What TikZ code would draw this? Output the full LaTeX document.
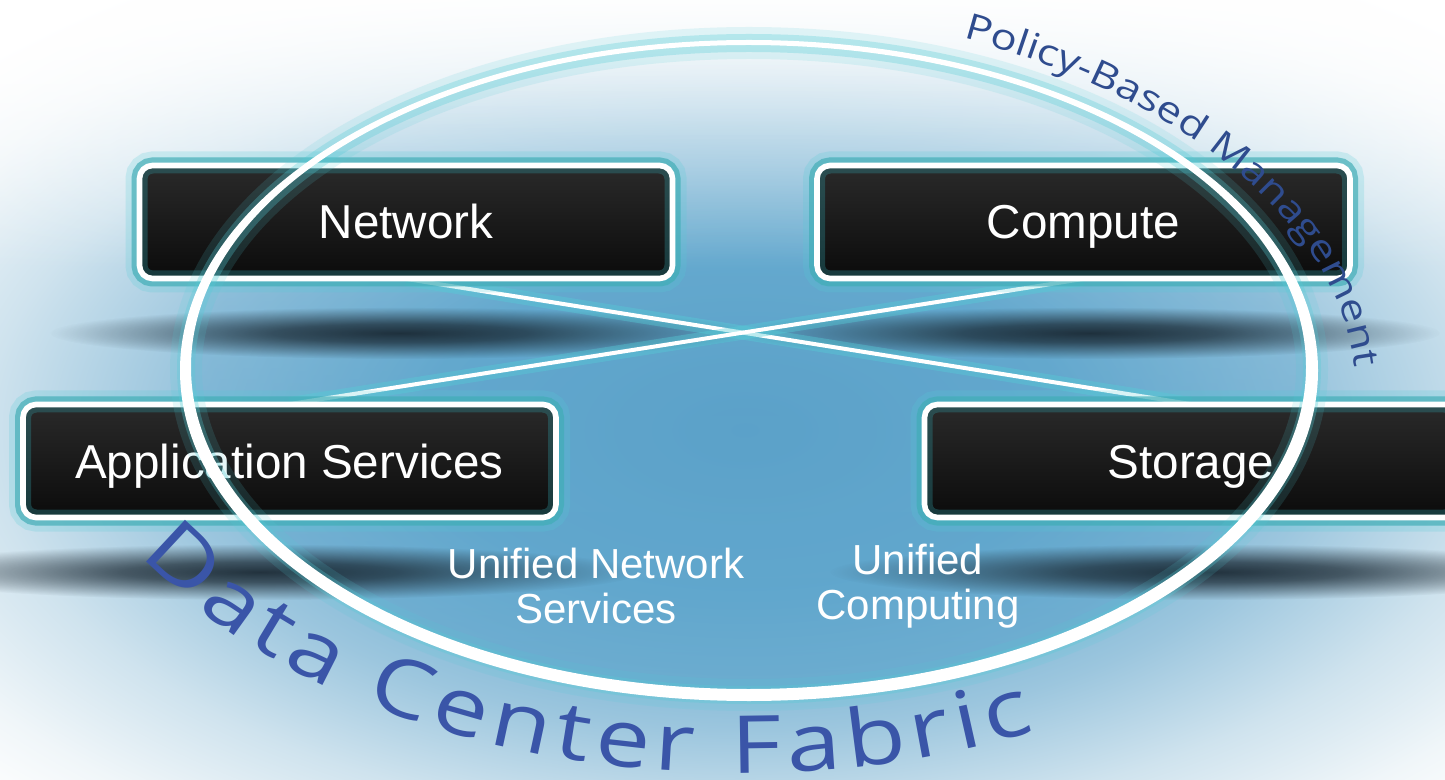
\documentclass[tikz,border=0pt]{standalone}
\usepackage{fontspec}
\setmainfont{Liberation Sans}
\newfontfamily\osans[FakeStretch=1.22]{Open Sans}
\newfontfamily\osansb[FakeStretch=1.22]{Open Sans}
\usetikzlibrary{fadings,decorations.text}

\definecolor{bgA}{HTML}{5A9FC7}
\definecolor{bgB}{HTML}{66AACF}
\definecolor{bgC}{HTML}{9CC6DE}
\definecolor{bgD}{HTML}{CFE3EE}
\definecolor{bgE}{HTML}{F0F6F9}
\definecolor{innerblue}{HTML}{5EA5CC}
\definecolor{bandc}{HTML}{16232D}
\definecolor{glowc}{HTML}{55CCD6}
\definecolor{innerteal}{HTML}{2E9098}
\definecolor{boxtop}{HTML}{2A2A2A}
\definecolor{boxbot}{HTML}{0B0B0B}
\definecolor{pbm}{HTML}{2F4C8E}
\definecolor{dcf}{HTML}{3A55A8}

\pgfdeclareradialshading{bgglow}{\pgfpointorigin}{color(0bp)=(bgA); color(7bp)=(bgB); color(12.5bp)=(bgC); color(16.5bp)=(bgD); color(20bp)=(bgE); color(22.5bp)=(white); color(50bp)=(white)}
\pgfdeclareradialshading{blobshade}{\pgfpointorigin}{color(0bp)=(white); color(9bp)=(white!78!black); color(25bp)=(black); color(50bp)=(black)}
\pgfdeclarefading{softblob}{\pgfuseshading{blobshade}}
\tikzfading[name=topwhite, top color=transparent!0, bottom color=transparent!100]
\tikzfading[name=interiorfade, top color=transparent!100, middle color=transparent!35, bottom color=transparent!30]

\pgfdeclarelayer{bg}
\pgfdeclarelayer{fg}
\pgfsetlayers{bg,main,fg}

\tikzset{
  box/.style={rounded corners=6.5pt, minimum width=266.5pt, minimum height=56.5pt, inner sep=0pt,
    top color=boxtop, bottom color=boxbot, draw=none, text=white,
    text height=17pt, text depth=0pt,
    font=\fontsize{23.8pt}{28pt}\selectfont,
    preaction={draw=glowc, line width=14pt, opacity=.22},
    preaction={draw=glowc, line width=8pt, opacity=.5},
    postaction={draw=innerteal, line width=8pt, opacity=.35},
    postaction={draw=white, line width=2.8pt}},
  utext/.style={text=white, align=center, font=\fontsize{21pt}{22.5pt}\selectfont, inner sep=0pt},
  conn/.style={draw=white, line width=2pt, preaction={draw=glowc, line width=7pt, opacity=.4}},
  band/.style={fill=bandc, opacity=.9, path fading=softblob, fit fading=true},
  ringglow/.style={draw=glowc, opacity=#1},
}

\begin{document}
\begin{tikzpicture}[x=0.5pt,y=-0.5pt]
\useasboundingbox (0,0) rectangle (1445,780);

\begin{pgfonlayer}{bg}
  \fill[white] (0,0) rectangle (1445,780);
  \shade[shading=bgglow] (745,430) ellipse [x radius=1150, y radius=600];
  \fill[white, path fading=topwhite, fit fading=true] (-10,-10) rectangle (1455,270);
  \fill[innerblue, path fading=interiorfade, fit fading=true] (749,370) ellipse [x radius=566, y radius=328];
  % shadow bands
  \fill[band] (400,333) ellipse [x radius=350, y radius=26];
  \fill[band] (1090,333) ellipse [x radius=350, y radius=26];
  \fill[band] (260,572) ellipse [x radius=380, y radius=28];
  \fill[band] (1210,572) ellipse [x radius=380, y radius=28];
\end{pgfonlayer}

% boxes
\node[box] (net)  at (406,222)    {Network};
\node[box] (comp) at (1083.5,222) {Compute};
\node[box] (app)  at (289.5,461)  {Application Services};
\node[box] (stor) at (1191,461)   {Storage};

\node[utext] (uns) at (596,586) {Unified Network\\Services};
\node[utext] (uc)  at (918,586) {Unified\\Computing};

\begin{pgfonlayer}{bg}
  \draw[conn] (net.south) -- (stor.north);
  \draw[conn] (comp.south) -- (app.north);
\end{pgfonlayer}

\begin{pgfonlayer}{fg}
  \draw[ringglow=.15, line width=16pt] (749,369) ellipse [x radius=563, y radius=326];
  \draw[ringglow=.3, line width=9pt] (749,369) ellipse [x radius=563, y radius=326];
  \fill[white, even odd rule] (749,370.5) ellipse [x radius=569, y radius=330.5]
                              (748.5,367) ellipse [x radius=557.5, y radius=322];
  \path[decorate, decoration={text along path,
      text={|\osans\fontsize{18pt}{18pt}\selectfont|Policy-Based Management},
      text color=pbm, text align=fit to path}]
    (963,38) .. controls (1150,88) and (1330,200) .. (1354,362);
  \path[decorate, decoration={text along path,
      text={|\osansb\fontsize{40pt}{40pt}\selectfont|Data Center Fabric},
      text color=dcf, text align=fit to path}]
    (140,555) arc[start angle=149.5, end angle=65, x radius=697, y radius=443];
\end{pgfonlayer}
\end{tikzpicture}
\end{document}
